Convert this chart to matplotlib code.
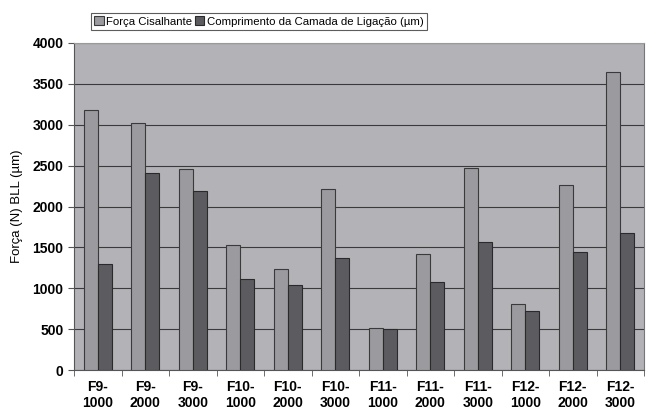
import numpy as np
import matplotlib.pyplot as plt

plt.rcParams['font.family'] = ['Liberation Sans', 'DejaVu Sans']

labels = ['F9-\n1000', 'F9-\n2000', 'F9-\n3000', 'F10-\n1000', 'F10-\n2000', 'F10-\n3000',
          'F11-\n1000', 'F11-\n2000', 'F11-\n3000', 'F12-\n1000', 'F12-\n2000', 'F12-\n3000']
forca = [3180, 3020, 2460, 1530, 1240, 2220, 510, 1420, 2470, 810, 2260, 3650]
comprimento = [1300, 2415, 2190, 1110, 1040, 1370, 500, 1080, 1570, 720, 1440, 1670]

fig = plt.figure(figsize=(6.51, 4.12), dpi=100)
ax = fig.add_axes([74/651, 1-370/412, 570/651, 327/412])
ax.set_facecolor('#b3b3b7')

x = np.arange(len(labels))
w = 0.29
ax.bar(x - w/2, forca, w, color='#9b9b9f', edgecolor='#3a3a3a', linewidth=0.8,
       label='Força Cisalhante', zorder=3)
ax.bar(x + w/2, comprimento, w, color='#5c5c60', edgecolor='#2a2a2a', linewidth=0.8,
       label='Comprimento da Camada de Ligação (µm)', zorder=3)

ax.set_xlim(-0.5, len(labels) - 0.5)
ax.set_ylim(0, 4000)
ax.set_yticks(range(0, 4001, 500))
ax.yaxis.grid(True, color='#3a3a3a', linewidth=0.8, zorder=1)
ax.set_xticks(x)
ax.set_xticklabels(labels, fontsize=10, fontweight='bold', linespacing=1.25)
ax.set_xticks(np.arange(-0.5, len(labels), 1), minor=True)
ax.tick_params(axis='x', which='major', length=0, pad=7)
ax.tick_params(axis='x', which='minor', length=4, color='#555555')
ax.tick_params(axis='y', length=4, color='#555555', labelsize=10)
for t in ax.get_yticklabels():
    t.set_fontweight('bold')
ax.set_ylabel('Força (N) BLL (µm)', fontsize=9.5, labelpad=7)

ax.spines['top'].set_color('#9a9a9a')
ax.spines['right'].set_color('#777777')
ax.spines['left'].set_color('#555555')
ax.spines['bottom'].set_color('#555555')

leg = ax.legend(loc='lower left', bbox_to_anchor=(91/651, 1-30/412), bbox_transform=fig.transFigure,
                ncol=2, fontsize=8.2, frameon=True, fancybox=False, handlelength=0.8,
                handleheight=0.8, handletextpad=0.2, columnspacing=0.3, borderpad=0.3,
                borderaxespad=0)
leg.get_frame().set_edgecolor('#333333')
leg.get_frame().set_linewidth(0.8)

fig.savefig('out.png', dpi=100)
